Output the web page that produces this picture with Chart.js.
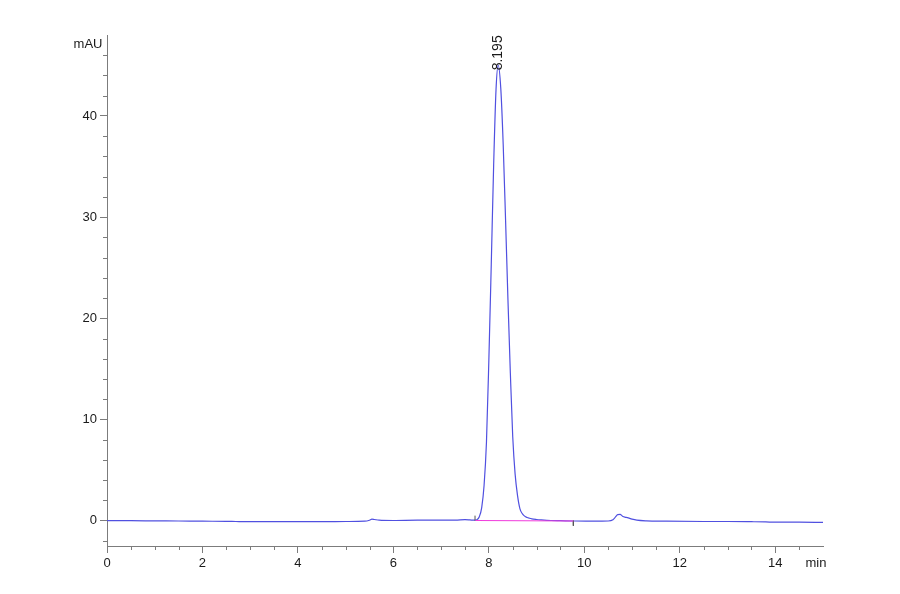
<!DOCTYPE html>
<html>
<head>
<meta charset="utf-8">
<style>
  html, body { margin: 0; padding: 0; background: #fff; }
  #wrap { width: 900px; height: 594px; }
</style>
<script src="https://cdn.jsdelivr.net/npm/chart.js"></script>
</head>
<body>
<div id="wrap"><canvas id="hplcChart" width="900" height="594"></canvas></div>
<script type="text/javascript">
    // retention time (min) and detector signal (mAU)
    var times = [0, 0.5, 1.0, 1.5, 2.0, 2.5, 2.7, 3.0, 3.5, 4.0, 4.5, 5.0, 5.4, 5.5, 5.55, 5.6, 5.7, 6.0, 6.5, 7.0, 7.3, 7.5, 7.6, 7.7,
        7.75, 7.8, 7.85, 7.9, 7.95, 8.0, 8.05, 8.1, 8.15, 8.195, 8.25, 8.3, 8.35, 8.4, 8.45, 8.5, 8.55, 8.6, 8.65, 8.7, 8.75, 8.8, 8.85, 8.9, 9.0, 9.1,
        9.3, 9.5, 9.8, 10.2, 10.5, 10.6, 10.65, 10.7, 10.75, 10.8, 10.85, 10.9, 11.0, 11.1, 11.3, 11.7, 12.5, 13.0, 13.5, 13.8, 14.0, 14.5, 15.0];
    var signal = [0.0, 0.0, -0.02, -0.03, -0.05, -0.06, -0.08, -0.1, -0.1, -0.1, -0.1, -0.08, -0.05, 0.05, 0.15, 0.12, 0.05, 0.02, 0.05, 0.05, 0.05, 0.1, 0.08, 0.05,
        0.1, 0.4, 1.3, 3.5, 7.8, 15.9, 25.3, 35.1, 42.6, 45.0, 42.7, 37.2, 29.7, 21.8, 14.6, 8.3, 4.6, 2.5, 1.2, 0.7, 0.45, 0.32, 0.24, 0.18, 0.12, 0.08,
        0.02, 0.0, -0.03, -0.05, -0.03, 0.1, 0.35, 0.6, 0.62, 0.45, 0.35, 0.3, 0.15, 0.05, -0.02, -0.05, -0.08, -0.08, -0.1, -0.12, -0.15, -0.15, -0.17];

    // integration baseline and its start / end marks
    var baseTimes = [7.72, 9.77];
    var baseValues = [0.02, -0.03];
    var startMarkTimes = [7.71, 7.71];
    var startMarkValues = [0.0, 0.5];
    var endMarkTimes = [9.77, 9.77];
    var endMarkValues = [0.0, -0.5];

    var peakTime = 8.195;
    var peakValue = 45.0;
    var peakLabel = '8.195';

    var xTicks = [0, 0.5, 1, 1.5, 2, 2.5, 3, 3.5, 4, 4.5, 5, 5.5, 6, 6.5, 7, 7.5, 8, 8.5, 9, 9.5, 10, 10.5, 11, 11.5, 12, 12.5, 13, 13.5, 14, 14.5];
    var xLabels = [0, 2, 4, 6, 8, 10, 12, 14];
    var yTicks = [-2, 0, 2, 4, 6, 8, 10, 12, 14, 16, 18, 20, 22, 24, 26, 28, 30, 32, 34, 36, 38, 40, 42, 44, 46];
    var yLabels = [0, 10, 20, 30, 40];

    var axisColor = '#7c7c7c';
    var textColor = '#1a1a1a';
    var tickFont = { family: '"Liberation Sans", Arial, sans-serif', size: 13 };

    function toPoints(xs, ys) {
        return xs.map(function (t, i) { return { x: t, y: ys[i] }; });
    }

    // short minor ticks + unit labels + rotated peak label
    var extras = {
        id: 'extras',
        afterDraw: function (chart) {
            var ctx = chart.ctx;
            var x = chart.scales.x, y = chart.scales.y;
            var area = chart.chartArea;
            ctx.save();
            ctx.strokeStyle = axisColor;
            ctx.lineWidth = 1;
            ctx.beginPath();
            x.ticks.forEach(function (t) {
                if (xLabels.indexOf(t.value) >= 0) return;
                var px = Math.round(x.getPixelForValue(t.value)) + 0.5;
                ctx.moveTo(px, area.bottom);
                ctx.lineTo(px, area.bottom + 4);
            });
            y.ticks.forEach(function (t) {
                if (yLabels.indexOf(t.value) >= 0) return;
                var py = Math.round(y.getPixelForValue(t.value)) + 0.5;
                ctx.moveTo(area.left, py);
                ctx.lineTo(area.left - 4, py);
            });
            ctx.stroke();

            ctx.fillStyle = textColor;
            ctx.font = '13px ' + tickFont.family;
            ctx.textAlign = 'center';
            ctx.textBaseline = 'middle';
            ctx.fillText('mAU', 88, 44);
            ctx.fillText('min', 816, 563);

            var px = x.getPixelForValue(peakTime);
            var py = y.getPixelForValue(peakValue);
            ctx.translate(px, py + 5);
            ctx.rotate(-Math.PI / 2);
            ctx.font = '14px "Liberation Sans", Arial, sans-serif';
            ctx.textAlign = 'left';
            ctx.fillText(peakLabel, 0, 0);
            ctx.restore();
        }
    };

    var ctx = document.getElementById('hplcChart').getContext('2d');
    var hplcChart = new Chart(ctx, {
        type: 'scatter',
        data: {
            datasets: [{
                label: 'baseline',
                data: toPoints(baseTimes, baseValues),
                showLine: true,
                borderColor: '#f03cdc',
                borderWidth: 1.2,
                pointRadius: 0
            }, {
                label: 'start',
                data: toPoints(startMarkTimes, startMarkValues),
                showLine: true,
                borderColor: '#555',
                borderWidth: 1,
                pointRadius: 0
            }, {
                label: 'end',
                data: toPoints(endMarkTimes, endMarkValues),
                showLine: true,
                borderColor: '#555',
                borderWidth: 1,
                pointRadius: 0
            }, {
                label: 'DAD signal',
                data: toPoints(times, signal),
                showLine: true,
                borderColor: '#5050e0',
                borderWidth: 1.2,
                pointRadius: 0,
                cubicInterpolationMode: 'monotone'
            }]
        },
        options: {
            responsive: false,
            animation: false,
            layout: { padding: { left: 0, top: 35, right: 77, bottom: 0 } },
            plugins: {
                legend: { display: false },
                tooltip: { enabled: false }
            },
            scales: {
                x: {
                    type: 'linear',
                    min: 0,
                    max: 15,
                    afterBuildTicks: function (scale) {
                        scale.ticks = xTicks.map(function (v) { return { value: v }; });
                    },
                    afterFit: function (scale) { scale.height = 48; },
                    border: { display: true, color: axisColor, width: 1 },
                    grid: {
                        drawOnChartArea: false,
                        tickLength: 7,
                        tickColor: function (c) {
                            return xLabels.indexOf(c.tick.value) >= 0 ? axisColor : 'rgba(0,0,0,0)';
                        }
                    },
                    ticks: {
                        autoSkip: false,
                        maxRotation: 0,
                        padding: 3,
                        color: textColor,
                        font: tickFont,
                        callback: function (v) { return xLabels.indexOf(v) >= 0 ? v : ''; }
                    }
                },
                y: {
                    min: -2.5,
                    max: 48,
                    afterBuildTicks: function (scale) {
                        scale.ticks = yTicks.map(function (v) { return { value: v }; });
                    },
                    afterFit: function (scale) { scale.width = 107; },
                    border: { display: true, color: axisColor, width: 1 },
                    grid: {
                        drawOnChartArea: false,
                        tickLength: 7,
                        tickColor: function (c) {
                            return yLabels.indexOf(c.tick.value) >= 0 ? axisColor : 'rgba(0,0,0,0)';
                        }
                    },
                    ticks: {
                        autoSkip: false,
                        padding: 3,
                        color: textColor,
                        font: tickFont,
                        callback: function (v) { return yLabels.indexOf(v) >= 0 ? v : ''; }
                    }
                }
            }
        },
        plugins: [extras]
    });
</script>
</body>
</html>
